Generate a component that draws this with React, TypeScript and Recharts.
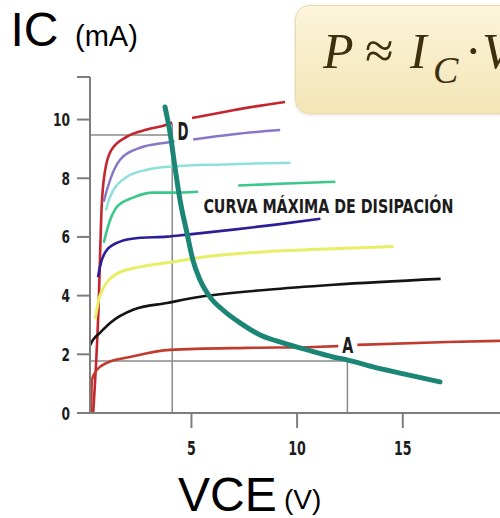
import { Line, LineChart, ReferenceDot, ReferenceLine, XAxis, YAxis } from "recharts";

// Curvas características IC-VCE + curva máxima de disipación
const W = 500;
const H = 518;

const COND = "'DejaVu Sans Condensed', 'DejaVu Sans', sans-serif";
const AXIS = "#7d7d7d";
const REF = "#8a8a8a";
const INK = "#1c1c1c";

// ejes
const X_TICKS = [5, 10, 15];
const Y_TICKS = [0, 2, 4, 6, 8, 10, 11.45];

// curva 1 (roja superior, corte en "D")
const c1V = [0.35, 0.6, 0.75, 0.9, 1.2, 1.95, 2.9, 3.85, 4.09, 4.55, 5.03, 6.97, 9.43];
const c1I = [0, 3.5, 7.0, 8.2, 8.95, 9.42, 9.66, 9.83, 9.9, null, 10.05, 10.32, 10.6];
// curva 2 (violeta)
const c2V = [0.85, 1.0, 1.62, 2.57, 3.85, 4.2, 4.6, 5.08, 7.0, 9.2];
const c2I = [7.2, 7.6, 8.63, 9.04, 9.22, 9.26, null, 9.32, 9.5, 9.64];
// curva 3 (celeste)
const c3V = [0.95, 1.15, 1.95, 2.9, 4.13, 6.5, 9.68];
const c3I = [6.9, 7.37, 8.05, 8.29, 8.4, 8.47, 8.53];
// curva 4 (verde)
const c4V = [0.85, 1.01, 1.48, 2.24, 3.19, 4.13, 5.32, 6.2, 7.21, 9.5, 11.81];
const c4I = [5.8, 6.25, 7.03, 7.34, 7.51, 7.51, 7.54, null, 7.75, 7.82, 7.88];
// curva 5 (azul)
const c5V = [0.58, 0.67, 1.0, 1.62, 2.57, 3.85, 4.8, 6.98, 9.0, 11.1];
const c5I = [4.63, 4.98, 5.56, 5.84, 5.97, 6.01, 6.08, 6.25, 6.42, 6.62];
// curva 6 (amarilla)
const c6V = [0.45, 0.67, 1.48, 2.57, 3.85, 5.41, 8.59, 11.7, 14.56];
const c6I = [3.2, 4.0, 4.75, 4.98, 5.12, 5.3, 5.5, 5.6, 5.67];
// curva 7 (negra)
const c7V = [0.2, 0.34, 0.67, 1.15, 2.24, 3.85, 5.41, 8.59, 11.72, 16.79];
const c7I = [2.3, 2.49, 2.73, 3.07, 3.52, 3.75, 3.96, 4.2, 4.37, 4.57];
// curva 8 (roja inferior, corte en "A")
const c8V = [0.25, 0.29, 0.53, 1.0, 2.1, 4.0, 7.64, 10.77, 11.95, 12.4, 12.85, 17.12, 19.6];
const c8I = [0, 1.13, 1.47, 1.71, 1.91, 2.15, 2.22, 2.25, 2.28, null, 2.32, 2.42, 2.46];
// curva máxima de disipación
const pdV = [3.75, 3.99, 4.22, 4.46, 4.79, 5.07, 5.41, 5.88, 6.49, 7.3, 8.25, 9.33, 10.47, 11.7, 12.36, 13.59, 14.87, 16.76];
const pdI = [10.43, 9.54, 8.38, 7.26, 6.13, 5.21, 4.53, 3.95, 3.51, 3.07, 2.66, 2.39, 2.15, 1.91, 1.81, 1.57, 1.36, 1.06];

// puntos D y A
const D_V = 4.09;
const D_I = 9.47;
const A_V = 12.38;
const A_I = 1.77;

const pts = (v: number[], i: (number | null)[]) => v.map((x, k) => ({ v: x, i: i[k] }));

const CURVES = [
  { key: "c1", data: pts(c1V, c1I), color: "#c3262f", w: 2.6 },
  { key: "c2", data: pts(c2V, c2I), color: "#8877c6", w: 2.5 },
  { key: "c3", data: pts(c3V, c3I), color: "#8fe0dc", w: 2.5 },
  { key: "c4", data: pts(c4V, c4I), color: "#3cc88a", w: 2.6 },
  { key: "c5", data: pts(c5V, c5I), color: "#2b1f98", w: 2.6 },
  { key: "c6", data: pts(c6V, c6I), color: "#e9ee66", w: 3 },
  { key: "c7", data: pts(c7V, c7I), color: "#141414", w: 2.6 },
  { key: "c8", data: pts(c8V, c8I), color: "#c23a2e", w: 2.6 },
];

// texto condensado y grueso, ancho forzado
function squeeze(text: string, x: number, y: number, size: number, length: number, anchor = "middle") {
  return (
    <text
      x={x}
      y={y}
      textAnchor={anchor}
      fontSize={size}
      fontWeight="bold"
      fontFamily={COND}
      fill={INK}
      textLength={length}
      lengthAdjust="spacingAndGlyphs"
    >
      {text}
    </text>
  );
}

function tag(text: string, size: number, length: number) {
  return (p: any) => {
    const vb = p.viewBox || {};
    const cx = (vb.x ?? 0) + (vb.width ?? 0) / 2;
    const cy = (vb.y ?? 0) + (vb.height ?? 0) / 2;
    // línea base = centro + media altura de mayúscula
    return squeeze(text, cx, cy + size * 0.36, size, length);
  };
}

const YTick = (p: any) => {
  const v = p.payload?.value;
  if (v === undefined || v > 11) return <g />;
  const s = String(v);
  return squeeze(s, p.x, p.y + 6.5, 18, s.length * 8.5, "end");
};

const XTick = (p: any) => {
  const s = String(p.payload?.value ?? "");
  return squeeze(s, p.x, p.y + 15, 20, s.length * 8.8);
};

export default function App() {
  return (
    <div style={{ position: "absolute", left: 0, top: 0, width: W, height: H, overflow: "hidden", background: "#fff" }}>
      <LineChart width={W} height={H} margin={{ top: 77, right: 0, left: 0, bottom: 0 }}>
        <XAxis
          type="number"
          dataKey="v"
          domain={[0.2, 19.6]}
          ticks={X_TICKS}
          interval={0}
          allowDataOverflow
          height={105}
          tickSize={15}
          tickMargin={12}
          axisLine={{ stroke: AXIS, strokeWidth: 2 }}
          tickLine={{ stroke: AXIS, strokeWidth: 2 }}
          tick={<XTick />}
        />
        <YAxis
          type="number"
          dataKey="i"
          domain={[0, 11.45]}
          ticks={Y_TICKS}
          interval={0}
          allowDataOverflow
          width={90}
          tickSize={13}
          tickMargin={7}
          axisLine={{ stroke: AXIS, strokeWidth: 2 }}
          tickLine={{ stroke: AXIS, strokeWidth: 2 }}
          tick={<YTick />}
        />
        <ReferenceLine segment={[{ x: 0.2, y: D_I }, { x: D_V, y: D_I }]} stroke={REF} strokeWidth={1.5} />
        <ReferenceLine segment={[{ x: D_V, y: 0 }, { x: D_V, y: 9.85 }]} stroke={REF} strokeWidth={1.5} />
        <ReferenceLine segment={[{ x: 0.2, y: A_I }, { x: A_V, y: A_I }]} stroke={REF} strokeWidth={1.5} />
        <ReferenceLine segment={[{ x: A_V, y: 0 }, { x: A_V, y: A_I }]} stroke={REF} strokeWidth={1.5} />
        {CURVES.map((c) => (
          <Line
            key={c.key}
            data={c.data}
            dataKey="i"
            type="monotone"
            stroke={c.color}
            strokeWidth={c.w}
            dot={false}
            connectNulls={false}
            isAnimationActive={false}
          />
        ))}
        <Line
          data={pts(pdV, pdI)}
          dataKey="i"
          type="monotone"
          stroke="#1c8676"
          strokeWidth={5}
          strokeLinecap="round"
          dot={false}
          isAnimationActive={false}
        />
        <ReferenceDot x={4.6} y={9.6} r={0} fill="none" stroke="none" label={tag("D", 25, 11)} />
        <ReferenceDot x={12.4} y={2.3} r={0} fill="none" stroke="none" label={tag("A", 21, 11)} />
        <ReferenceDot x={11.48} y={7.05} r={0} fill="none" stroke="none" label={tag("CURVA MÁXIMA DE DISIPACIÓN", 20, 250)} />
      </LineChart>

      <div
        style={{
          position: "absolute",
          left: 295,
          top: 5,
          width: 240,
          height: 107,
          borderRadius: 14,
          background: "linear-gradient(#fcf5dc, #f4e5b6)",
          border: "1px solid #e9daac",
          boxShadow: "0 1px 3px rgba(150,130,80,0.25)",
        }}
      />
      <svg width={W} height={H} style={{ position: "absolute", left: 0, top: 0, pointerEvents: "none" }}>
        <g fontFamily="'Liberation Sans', Arial, sans-serif" fill="#000">
          <text x={10.5} y={46} fontSize={48}>IC</text>
          <text x={75} y={46} fontSize={29}>(mA)</text>
          <text x={178} y={511} fontSize={48}>VCE</text>
          <text x={284} y={509} fontSize={28}>(V)</text>
        </g>
        <g fontFamily="'Liberation Serif', 'Times New Roman', serif" fill="#3d300f">
          <text x={323} y={68} fontSize={50} fontStyle="italic">P</text>
          <text x={365} y={68} fontSize={52}>≈</text>
          <text x={410} y={68} fontSize={50} fontStyle="italic">I</text>
          <text x={433} y={83} fontSize={38} fontStyle="italic">C</text>
          <text x={465} y={68} fontSize={50}>·</text>
          <text x={482} y={68} fontSize={50} fontStyle="italic">V</text>
        </g>
      </svg>
    </div>
  );
}
